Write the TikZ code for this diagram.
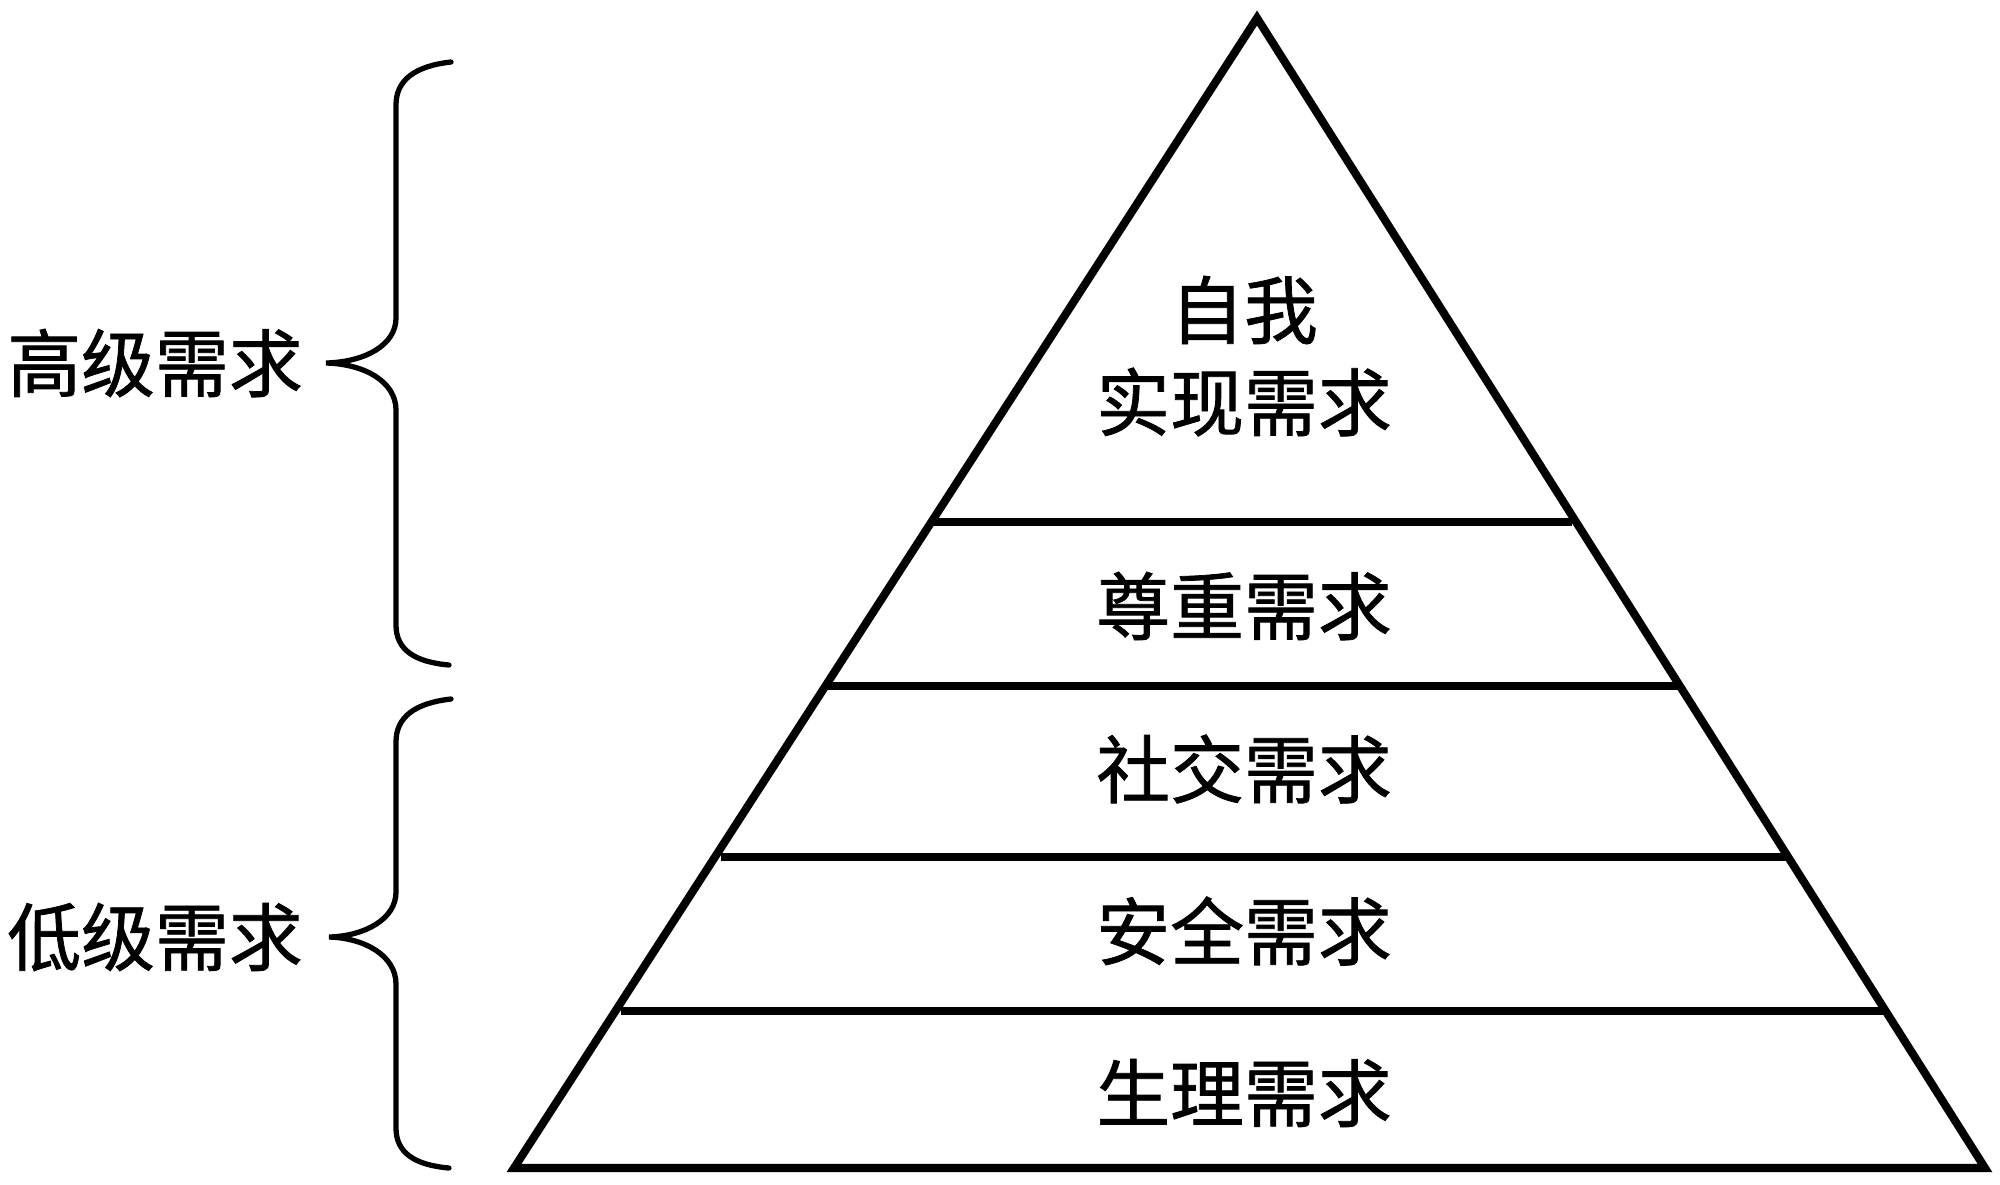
\documentclass[tikz,border=0pt]{standalone}
\usepackage{fontspec}
\newfontfamily\cjk[FakeBold=1]{Noto Sans CJK SC}
\begin{document}
\begin{tikzpicture}[x=0.01cm,y=-0.01cm,
  edge/.style={line width=2.3pt,line join=miter},
  brace/.style={line width=1.5pt,line cap=round},
  lbl/.style={font=\cjk\fontsize{21}{28}\selectfont,inner sep=0pt,align=center}]
\useasboundingbox (0,0) rectangle (2000,1184);
% triangle
\coordinate (A) at (1257,18);
\coordinate (BL) at (514,1168);
\coordinate (BR) at (1985,1168);
\draw[edge] (A) -- (BL) -- (BR) -- cycle;
% layer lines
\coordinate (l1a) at (933,522); \coordinate (l1b) at (1572,522);
\coordinate (l2a) at (824,686); \coordinate (l2b) at (1682,686);
\coordinate (l3a) at (721,857); \coordinate (l3b) at (1787,857);
\coordinate (l4a) at (621,1011); \coordinate (l4b) at (1884,1011);
\draw[edge] (l1a) -- (l1b);
\draw[edge] (l2a) -- (l2b);
\draw[edge] (l3a) -- (l3b);
\draw[edge] (l4a) -- (l4b);
% labels
\node[lbl] (t1) at (1244,310) {自我};
\node[lbl] (t2) at (1244,402) {实现需求};
\node[lbl] (t3) at (1244,606) {尊重需求};
\node[lbl] (t4) at (1244,769) {社交需求};
\node[lbl] (t5) at (1244,931) {安全需求};
\node[lbl] (t6) at (1244,1093) {生理需求};
\node[lbl] (h) at (155,363) {高级需求};
\node[lbl] (d) at (155,937) {低级需求};
% braces
\draw[brace] (451,62) .. controls (415,66) and (396,80) .. (396,105)
  -- (396,318) .. controls (396,345) and (365,362) .. (326,363)
  .. controls (365,364) and (396,382) .. (396,410)
  -- (396,625) .. controls (396,650) and (415,662) .. (449,665);
\draw[brace] (451,699) .. controls (415,703) and (396,717) .. (396,742)
  -- (396,892) .. controls (396,919) and (365,936) .. (329,937)
  .. controls (365,938) and (396,956) .. (396,984)
  -- (396,1128) .. controls (396,1153) and (415,1165) .. (449,1168);
\end{tikzpicture}
\end{document}
